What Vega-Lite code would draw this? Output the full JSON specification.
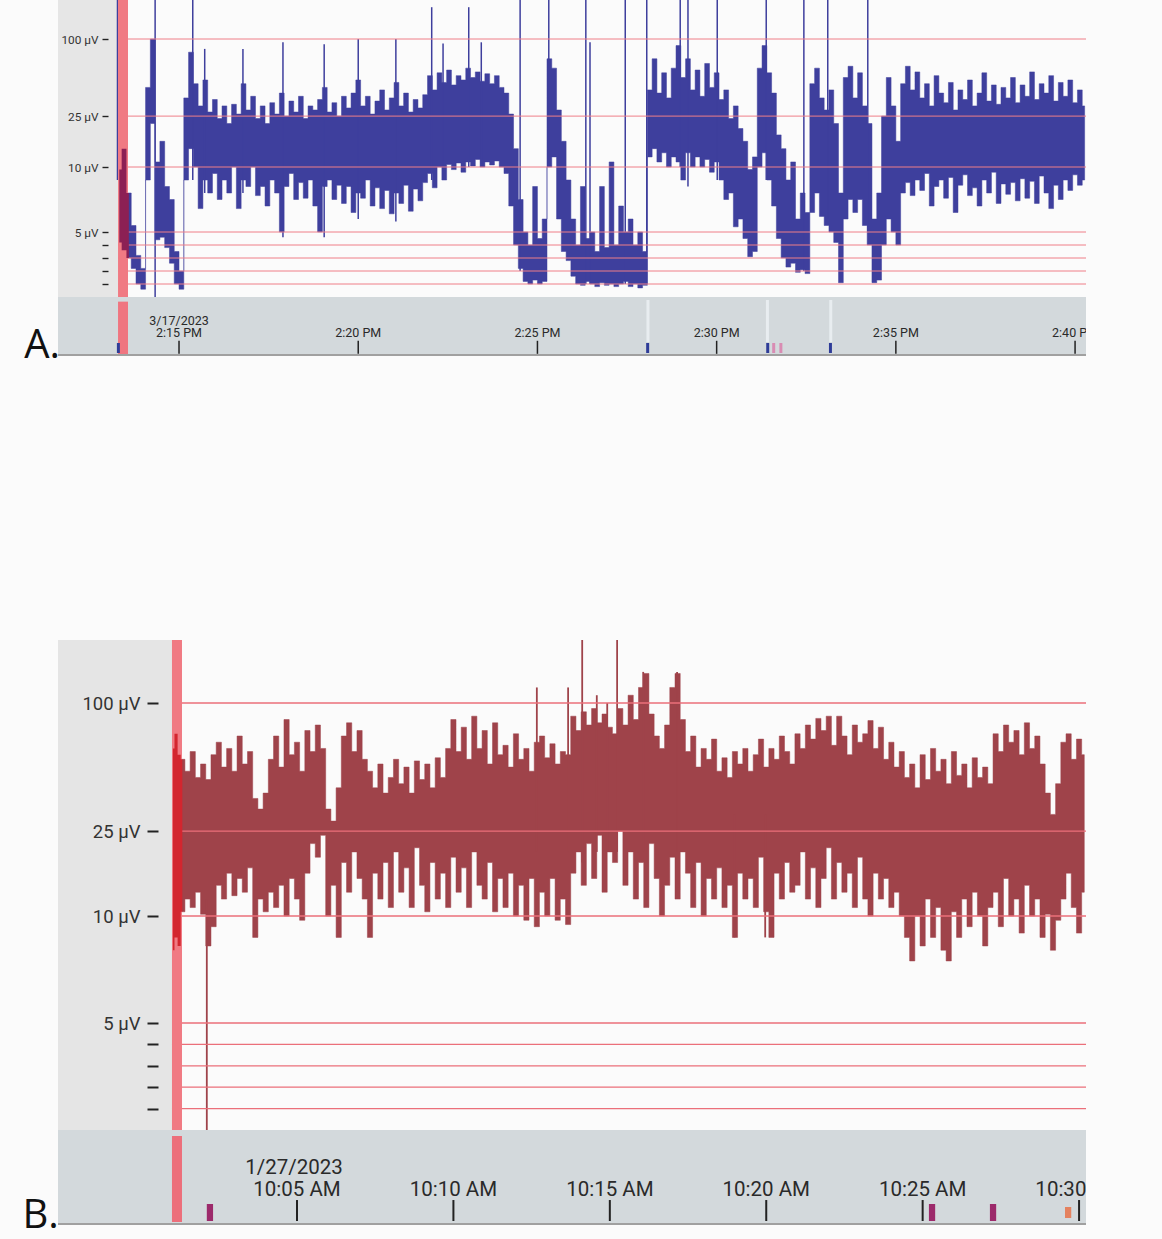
{
  "$schema": "https://vega.github.io/schema/vega-lite/v6.json",
  "background": "#fbfbfb",
  "padding": {"left": 20, "top": 0, "right": 76, "bottom": 8},
  "autosize": {"type": "pad"},
  "bounds": "flush",
  "spacing": 0,
  "config": {"view": {"stroke": null}, "font": "Roboto"},
  "datasets": {
    "one": [{}],
    "grid": [{"v": 1}, {"v": 2}, {"v": 3}, {"v": 4}, {"v": 5}, {"v": 10}, {"v": 25}, {"v": 100}],
    "traceA": [
      {"s":800,"l":4.2,"h":9.8},{"s":808,"l":3.6,"h":14},{"s":816,"l":3.0,"h":8},{"s":824,"l":2.2,"h":5.5},{"s":832,"l":1.0,"h":3.2},{"s":840,"l":0.6,"h":2.2},
      {"s":848,"l":9,"h":42},{"s":856,"l":22,"h":100},{"s":864,"l":4.4,"h":11},{"s":872,"l":4.6,"h":16},{"s":880,"l":3.8,"h":8.5},{"s":888,"l":2.6,"h":7.5},
      {"s":896,"l":1.0,"h":3.5},{"s":904,"l":0.6,"h":2.0},{"s":912,"l":9,"h":35},{"s":920,"l":14,"h":80},{"s":928,"l":10,"h":45},{"s":936,"l":6.8,"h":30},
      {"s":944,"l":9,"h":48},{"s":952,"l":8,"h":27},{"s":960,"l":9.5,"h":34},{"s":968,"l":7.5,"h":24},{"s":976,"l":9,"h":30},{"s":984,"l":8,"h":22},
      {"s":992,"l":10,"h":31},{"s":1000,"l":6.8,"h":26},{"s":1008,"l":9,"h":45},{"s":1016,"l":8.5,"h":28},{"s":1024,"l":10,"h":36},{"s":1032,"l":7.8,"h":24},
      {"s":1040,"l":8.5,"h":30},{"s":1048,"l":7,"h":22},{"s":1056,"l":9,"h":32},{"s":1064,"l":8,"h":26},{"s":1072,"l":5,"h":38},{"s":1080,"l":8.5,"h":25},
      {"s":1088,"l":9.5,"h":33},{"s":1096,"l":7.5,"h":27},{"s":1104,"l":8.8,"h":36},{"s":1112,"l":7.6,"h":24},{"s":1120,"l":9,"h":30},{"s":1128,"l":7,"h":28},
      {"s":1136,"l":5,"h":34},{"s":1144,"l":8.5,"h":42},{"s":1152,"l":9,"h":27},{"s":1160,"l":7.5,"h":32},{"s":1168,"l":8.6,"h":25},{"s":1176,"l":7.2,"h":36},
      {"s":1184,"l":8.5,"h":29},{"s":1192,"l":6.5,"h":38},{"s":1200,"l":8,"h":48},{"s":1208,"l":7.6,"h":30},{"s":1216,"l":9,"h":36},{"s":1224,"l":7,"h":26},
      {"s":1232,"l":8.4,"h":33},{"s":1240,"l":6.8,"h":40},{"s":1248,"l":8.2,"h":28},{"s":1256,"l":6.4,"h":35},{"s":1264,"l":8,"h":46},{"s":1272,"l":7.2,"h":30},
      {"s":1280,"l":8.6,"h":38},{"s":1288,"l":6.6,"h":27},{"s":1296,"l":8.3,"h":34},{"s":1304,"l":7.4,"h":29},{"s":1312,"l":8.8,"h":37},{"s":1320,"l":9.5,"h":52},
      {"s":1328,"l":8.4,"h":40},{"s":1336,"l":10,"h":55},{"s":1344,"l":9,"h":46},{"s":1352,"l":10.5,"h":58},{"s":1360,"l":9.8,"h":44},{"s":1368,"l":10.8,"h":52},
      {"s":1376,"l":9.6,"h":48},{"s":1384,"l":11,"h":60},{"s":1392,"l":10.2,"h":50},{"s":1400,"l":11.5,"h":56},{"s":1408,"l":10,"h":47},{"s":1416,"l":11,"h":54},
      {"s":1424,"l":10.4,"h":45},{"s":1432,"l":11.2,"h":52},{"s":1440,"l":10,"h":42},{"s":1448,"l":9.5,"h":38},{"s":1456,"l":7,"h":26},{"s":1464,"l":4,"h":14},
      {"s":1472,"l":2.2,"h":7.5},{"s":1480,"l":1.2,"h":5},{"s":1488,"l":1.0,"h":4},{"s":1496,"l":1.3,"h":8.5},{"s":1504,"l":1.0,"h":4.5},{"s":1512,"l":1.2,"h":6},
      {"s":1520,"l":10,"h":70},{"s":1528,"l":12,"h":60},{"s":1536,"l":6,"h":28},{"s":1544,"l":3.5,"h":16},{"s":1552,"l":2.8,"h":9},{"s":1560,"l":1.6,"h":6},
      {"s":1568,"l":1.0,"h":4},{"s":1576,"l":0.9,"h":8.5},{"s":1584,"l":1.2,"h":4.5},{"s":1592,"l":1.0,"h":5},{"s":1600,"l":0.8,"h":3.5},{"s":1608,"l":1.1,"h":8.5},
      {"s":1616,"l":0.9,"h":3.8},{"s":1624,"l":1.0,"h":11},{"s":1632,"l":0.8,"h":4},{"s":1640,"l":1.0,"h":7},{"s":1648,"l":1.2,"h":5},{"s":1656,"l":0.8,"h":6},
      {"s":1664,"l":1.0,"h":4},{"s":1672,"l":0.7,"h":5},{"s":1680,"l":0.9,"h":3.5},{"s":1688,"l":12,"h":40},{"s":1696,"l":14,"h":70},{"s":1704,"l":11,"h":38},
      {"s":1712,"l":13,"h":55},{"s":1720,"l":10,"h":35},{"s":1728,"l":12,"h":60},{"s":1736,"l":11,"h":90},{"s":1744,"l":9,"h":50},{"s":1752,"l":13,"h":70},
      {"s":1760,"l":10,"h":40},{"s":1768,"l":12,"h":58},{"s":1776,"l":10,"h":36},{"s":1784,"l":11.5,"h":65},{"s":1792,"l":9.6,"h":42},{"s":1800,"l":11,"h":55},
      {"s":1808,"l":9,"h":34},{"s":1816,"l":7.5,"h":40},{"s":1824,"l":8,"h":24},{"s":1832,"l":5.4,"h":30},{"s":1840,"l":6,"h":20},{"s":1848,"l":4.5,"h":16},
      {"s":1856,"l":3.1,"h":9.8},{"s":1864,"l":3.5,"h":12},{"s":1872,"l":10,"h":60},{"s":1880,"l":13,"h":90},{"s":1888,"l":9,"h":55},{"s":1896,"l":7,"h":38},
      {"s":1904,"l":4.5,"h":18},{"s":1912,"l":3,"h":14},{"s":1920,"l":2.3,"h":9},{"s":1928,"l":2.6,"h":11},{"s":1936,"l":1.9,"h":6},{"s":1944,"l":2.1,"h":8},
      {"s":1952,"l":1.8,"h":6.5},{"s":1960,"l":6.5,"h":45},{"s":1968,"l":8,"h":60},{"s":1976,"l":6.2,"h":35},{"s":1984,"l":5.5,"h":28},{"s":1992,"l":5,"h":40},
      {"s":2000,"l":4.2,"h":22},{"s":2008,"l":1.1,"h":8},{"s":2016,"l":6,"h":50},{"s":2024,"l":7.5,"h":62},{"s":2032,"l":6.5,"h":35},{"s":2040,"l":7.5,"h":55},
      {"s":2048,"l":5.5,"h":30},{"s":2056,"l":4,"h":22},{"s":2064,"l":1.1,"h":6},{"s":2072,"l":1.3,"h":8},{"s":2080,"l":4,"h":25},{"s":2088,"l":6,"h":50},
      {"s":2096,"l":5,"h":30},{"s":2104,"l":4,"h":16},{"s":2112,"l":8,"h":45},{"s":2120,"l":8.8,"h":62},{"s":2128,"l":7.8,"h":40},{"s":2136,"l":9,"h":56},
      {"s":2144,"l":8.2,"h":35},{"s":2152,"l":9.5,"h":45},{"s":2160,"l":7,"h":30},{"s":2168,"l":8.5,"h":52},{"s":2176,"l":9,"h":38},{"s":2184,"l":7.6,"h":32},
      {"s":2192,"l":9.2,"h":46},{"s":2200,"l":6.5,"h":28},{"s":2208,"l":8.6,"h":40},{"s":2216,"l":9.4,"h":34},{"s":2224,"l":7.8,"h":48},{"s":2232,"l":8.4,"h":30},
      {"s":2240,"l":7,"h":38},{"s":2248,"l":9,"h":55},{"s":2256,"l":8,"h":33},{"s":2264,"l":9.6,"h":44},{"s":2272,"l":7.2,"h":31},{"s":2280,"l":8.7,"h":42},
      {"s":2288,"l":7.9,"h":35},{"s":2296,"l":8.8,"h":50},{"s":2304,"l":7.4,"h":32},{"s":2312,"l":9.1,"h":44},{"s":2320,"l":7.6,"h":36},{"s":2328,"l":8.9,"h":56},
      {"s":2336,"l":7.2,"h":34},{"s":2344,"l":9.3,"h":45},{"s":2352,"l":8,"h":38},{"s":2360,"l":6.8,"h":52},{"s":2368,"l":8.6,"h":33},{"s":2376,"l":7.5,"h":46},
      {"s":2384,"l":9,"h":36},{"s":2392,"l":8.2,"h":48},{"s":2400,"l":9.4,"h":32},{"s":2408,"l":8.6,"h":40},{"s":2416,"l":9,"h":30}
    ],
    "spikeA": [
      {"s":797,"l":9,"h":202},{"s":860,"l":0,"h":202},{"s":923,"l":9,"h":202},{"s":943,"l":8,"h":85},{"s":1007,"l":8,"h":85},
      {"s":1074,"l":4.6,"h":95},{"s":1143,"l":4.6,"h":92},{"s":1200,"l":6,"h":100},{"s":1263,"l":5.8,"h":100},{"s":1323,"l":9,"h":180},
      {"s":1342,"l":9,"h":93},{"s":1385,"l":10,"h":180},{"s":1406,"l":10,"h":95},{"s":1471,"l":2,"h":202},{"s":1519,"l":10,"h":202},
      {"s":1581,"l":1,"h":202},{"s":1588,"l":1,"h":95},{"s":1647,"l":1,"h":202},{"s":1683,"l":1,"h":202},{"s":1739,"l":10,"h":202},
      {"s":1752,"l":8.5,"h":202},{"s":1801,"l":9,"h":202},{"s":1883,"l":9,"h":202},{"s":1946,"l":2,"h":202},{"s":1986,"l":6,"h":202},
      {"s":2053,"l":5,"h":202}
    ],
    "traceB": [
      {"s":62,"l":8.4,"h":62},{"s":68,"l":9,"h":72},{"s":74,"l":8.6,"h":58},
      {"s":80,"l":10.5,"h":55},{"s":90,"l":12,"h":48},{"s":100,"l":11,"h":60},{"s":110,"l":13,"h":45},{"s":120,"l":10.2,"h":52},{"s":130,"l":8.6,"h":44},
      {"s":140,"l":9.5,"h":58},{"s":150,"l":14,"h":66},{"s":160,"l":12,"h":50},{"s":170,"l":16,"h":62},{"s":180,"l":12.5,"h":48},{"s":190,"l":15,"h":70},
      {"s":200,"l":13,"h":52},{"s":210,"l":17,"h":60},{"s":220,"l":9,"h":36},{"s":230,"l":12,"h":32},{"s":240,"l":10.5,"h":38},{"s":250,"l":13,"h":55},
      {"s":260,"l":11,"h":70},{"s":270,"l":14,"h":50},{"s":280,"l":10,"h":85},{"s":290,"l":15,"h":58},{"s":300,"l":12,"h":66},{"s":310,"l":9.8,"h":48},
      {"s":320,"l":16,"h":75},{"s":330,"l":22,"h":60},{"s":340,"l":19,"h":80},{"s":350,"l":24,"h":62},{"s":360,"l":10,"h":32},{"s":370,"l":14,"h":28},
      {"s":380,"l":9,"h":40},{"s":390,"l":18,"h":70},{"s":400,"l":13,"h":82},{"s":410,"l":20,"h":60},{"s":420,"l":15,"h":75},{"s":430,"l":12,"h":55},
      {"s":440,"l":9,"h":48},{"s":450,"l":16,"h":40},{"s":460,"l":12,"h":52},{"s":470,"l":18,"h":38},{"s":480,"l":11,"h":45},{"s":490,"l":20,"h":55},
      {"s":500,"l":13,"h":42},{"s":510,"l":17,"h":50},{"s":520,"l":11,"h":38},{"s":530,"l":21,"h":54},{"s":540,"l":14,"h":44},{"s":550,"l":10.5,"h":52},
      {"s":560,"l":18,"h":40},{"s":570,"l":12,"h":56},{"s":580,"l":16,"h":45},{"s":590,"l":11,"h":62},{"s":600,"l":19,"h":85},{"s":610,"l":13,"h":60},
      {"s":620,"l":17,"h":78},{"s":630,"l":11,"h":55},{"s":640,"l":20,"h":88},{"s":650,"l":14,"h":62},{"s":660,"l":12,"h":75},{"s":670,"l":18,"h":52},
      {"s":680,"l":10.5,"h":82},{"s":690,"l":15,"h":58},{"s":700,"l":11,"h":64},{"s":710,"l":16,"h":50},{"s":720,"l":10,"h":72},{"s":730,"l":14,"h":55},
      {"s":740,"l":9.8,"h":62},{"s":750,"l":15,"h":48},{"s":760,"l":9.5,"h":66},{"s":770,"l":13,"h":70},{"s":780,"l":10,"h":56},{"s":790,"l":15,"h":65},
      {"s":800,"l":9.8,"h":52},{"s":810,"l":12,"h":60},{"s":820,"l":9.6,"h":58},{"s":830,"l":16,"h":88},{"s":840,"l":20,"h":75},{"s":850,"l":14,"h":92},
      {"s":860,"l":22,"h":80},{"s":870,"l":15,"h":95},{"s":880,"l":24,"h":82},{"s":890,"l":13,"h":90},{"s":900,"l":20,"h":78},{"s":910,"l":18,"h":72},
      {"s":920,"l":25,"h":95},{"s":930,"l":14,"h":80},{"s":940,"l":20,"h":110},{"s":950,"l":12,"h":85},{"s":960,"l":18,"h":120},{"s":970,"l":11,"h":138},
      {"s":980,"l":22,"h":90},{"s":990,"l":15,"h":70},{"s":1000,"l":10,"h":62},{"s":1010,"l":14,"h":80},{"s":1020,"l":19,"h":120},{"s":1030,"l":12,"h":138},
      {"s":1040,"l":20,"h":85},{"s":1050,"l":16,"h":60},{"s":1060,"l":11,"h":70},{"s":1070,"l":18,"h":50},{"s":1080,"l":10,"h":62},{"s":1090,"l":15,"h":55},
      {"s":1100,"l":12,"h":68},{"s":1110,"l":17,"h":48},{"s":1120,"l":11,"h":56},{"s":1130,"l":14,"h":45},{"s":1140,"l":9,"h":60},{"s":1150,"l":16,"h":52},
      {"s":1160,"l":12,"h":62},{"s":1170,"l":15,"h":48},{"s":1180,"l":11,"h":58},{"s":1190,"l":19,"h":68},{"s":1200,"l":10.5,"h":50},{"s":1210,"l":9,"h":62},
      {"s":1220,"l":16,"h":55},{"s":1230,"l":12,"h":70},{"s":1240,"l":18,"h":60},{"s":1250,"l":13,"h":52},{"s":1260,"l":14,"h":72},{"s":1270,"l":20,"h":62},
      {"s":1280,"l":12,"h":80},{"s":1290,"l":17,"h":68},{"s":1300,"l":11,"h":86},{"s":1310,"l":15,"h":75},{"s":1320,"l":21,"h":88},{"s":1330,"l":12,"h":64},
      {"s":1340,"l":18,"h":88},{"s":1350,"l":13,"h":70},{"s":1360,"l":16,"h":58},{"s":1370,"l":11,"h":80},{"s":1380,"l":19,"h":66},{"s":1390,"l":12,"h":72},
      {"s":1400,"l":10,"h":84},{"s":1410,"l":16,"h":62},{"s":1420,"l":12,"h":78},{"s":1430,"l":15,"h":55},{"s":1440,"l":11,"h":66},{"s":1450,"l":13,"h":50},
      {"s":1460,"l":10,"h":60},{"s":1470,"l":9,"h":45},{"s":1480,"l":7.9,"h":52},{"s":1490,"l":10,"h":40},{"s":1500,"l":8.6,"h":58},{"s":1510,"l":12,"h":44},
      {"s":1520,"l":9,"h":62},{"s":1530,"l":11,"h":48},{"s":1540,"l":8.4,"h":55},{"s":1550,"l":7.9,"h":42},{"s":1560,"l":10.5,"h":60},{"s":1570,"l":9,"h":46},
      {"s":1580,"l":12,"h":52},{"s":1590,"l":9.5,"h":40},{"s":1600,"l":13,"h":56},{"s":1610,"l":10,"h":45},{"s":1620,"l":8.6,"h":50},{"s":1630,"l":11,"h":42},
      {"s":1640,"l":13,"h":72},{"s":1650,"l":9.5,"h":60},{"s":1660,"l":15,"h":80},{"s":1670,"l":10,"h":66},{"s":1680,"l":12,"h":75},{"s":1690,"l":9.2,"h":58},
      {"s":1700,"l":14,"h":82},{"s":1710,"l":10,"h":62},{"s":1720,"l":12,"h":70},{"s":1730,"l":9,"h":52},{"s":1740,"l":10.2,"h":38},{"s":1750,"l":8.4,"h":30},
      {"s":1760,"l":9.8,"h":42},{"s":1770,"l":12,"h":66},{"s":1780,"l":16,"h":72},{"s":1790,"l":11,"h":55},{"s":1800,"l":9.2,"h":68},{"s":1810,"l":13,"h":58}
    ],
    "spikeB": [
      {"s":127,"l":0,"h":12},{"s":760,"l":20,"h":120},{"s":820,"l":20,"h":120},{"s":847,"l":18,"h":198},{"s":875,"l":20,"h":110},
      {"s":895,"l":20,"h":100},{"s":914,"l":20,"h":198},{"s":964,"l":20,"h":140},{"s":1029,"l":20,"h":140},{"s":1139,"l":9,"h":30},{"s":1198,"l":9,"h":30}
    ],
    "ticksA": [
      {"s":900,"t":"2:15 PM","d":"3/17/2023"},{"s":1200,"t":"2:20 PM","d":""},{"s":1500,"t":"2:25 PM","d":""},
      {"s":1800,"t":"2:30 PM","d":""},{"s":2100,"t":"2:35 PM","d":""},{"s":2400,"t":"2:40 PM","d":""}
    ],
    "ticksB": [
      {"s":300,"t":"10:05 AM","d":"1/27/2023"},{"s":600,"t":"10:10 AM","d":""},{"s":900,"t":"10:15 AM","d":""},
      {"s":1200,"t":"10:20 AM","d":""},{"s":1500,"t":"10:25 AM","d":""},{"s":1800,"t":"10:30 AM","d":""}
    ],
    "eventsA": [
      {"s0":796,"s1":801,"k":"b"},{"s0":1682,"s1":1687,"k":"b"},{"s0":1883,"s1":1888,"k":"b"},
      {"s0":1893,"s1":1898,"k":"p"},{"s0":1905,"s1":1910,"k":"p"},{"s0":1988,"s1":1993,"k":"b"}
    ],
    "eventsB": [
      {"s0":127,"s1":139,"k":"pu"},{"s0":1512,"s1":1524,"k":"pu"},{"s0":1629,"s1":1641,"k":"pu"},{"s0":1773,"s1":1785,"k":"or"}
    ],
    "gapsA": [{"s":1685},{"s":1885},{"s":1991}]
  },
  "resolve": {"scale": {"x": "independent", "y": "independent"}},
  "vconcat": [
    {
      "width": 1066,
      "height": 297,
      "layer": [
        {
          "data": {"name": "one"},
          "mark": {"type": "rect", "color": "#e6e6e6"},
          "encoding": {
            "x": {"datum": 697.4, "type": "quantitative", "scale": {"domain": [633.8, 2418.3], "nice": false, "zero": false}, "axis": null},
            "x2": {"datum": 797.9},
            "y": {
              "datum": 0, "type": "quantitative",
              "scale": {"domain": [0,10,12,15,20,25,30,40,50,70,100,140,202], "range": [297,167,156.9,144.5,128.5,116.1,105.9,89.9,77.5,58.8,39,20.3,0], "nice": false, "zero": false},
              "axis": {
                "orient": "left", "offset": -88, "values": [1,2,3,4,5,10,25,100], "domain": false, "grid": false,
                "tickSize": 6, "tickWidth": 1.4, "tickColor": "#222", "labelPadding": 4, "labelFontSize": 11.8,
                "labelFont": "Roboto", "labelColor": "#333", "labelOverlap": false, "labelBound": false, "title": null, "zindex": 1,
                "labelExpr": "datum.value >= 5 ? datum.value + ' µV' : ''"
              }
            },
            "y2": {"datum": 202}
          }
        },
        {
          "data": {"name": "traceA"},
          "mark": {"type": "area", "color": "#3e3f9d", "stroke": "#3e3f9d", "strokeWidth": 0.5, "interpolate": "step", "clip": true},
          "encoding": {
            "x": {"field": "s", "type": "quantitative", "scale": {"domain": [633.8, 2418.3], "nice": false, "zero": false}, "axis": null},
            "y": {"field": "l", "type": "quantitative", "scale": {"domain": [0,10,12,15,20,25,30,40,50,70,100,140,202], "range": [297,167,156.9,144.5,128.5,116.1,105.9,89.9,77.5,58.8,39,20.3,0], "nice": false, "zero": false}},
            "y2": {"field": "h"}
          }
        },
        {
          "data": {"name": "spikeA"},
          "mark": {"type": "rule", "color": "#3e3f9d", "strokeWidth": 1.5, "clip": true},
          "encoding": {
            "x": {"field": "s", "type": "quantitative", "scale": {"domain": [633.8, 2418.3], "nice": false, "zero": false}, "axis": null},
            "y": {"field": "l", "type": "quantitative", "scale": {"domain": [0,10,12,15,20,25,30,40,50,70,100,140,202], "range": [297,167,156.9,144.5,128.5,116.1,105.9,89.9,77.5,58.8,39,20.3,0], "nice": false, "zero": false}},
            "y2": {"field": "h"}
          }
        },
        {
          "data": {"name": "grid"},
          "mark": {"type": "rule", "color": "#ef7f88", "strokeWidth": 1},
          "encoding": {
            "x": {"datum": 797.9, "type": "quantitative", "scale": {"domain": [633.8, 2418.3], "nice": false, "zero": false}, "axis": null},
            "x2": {"datum": 2418.3},
            "y": {"field": "v", "type": "quantitative", "scale": {"domain": [0,10,12,15,20,25,30,40,50,70,100,140,202], "range": [297,167,156.9,144.5,128.5,116.1,105.9,89.9,77.5,58.8,39,20.3,0], "nice": false, "zero": false}}
          }
        },
        {
          "data": {"name": "one"},
          "mark": {"type": "rect", "color": "#f07a83"},
          "encoding": {
            "x": {"datum": 797.9, "type": "quantitative", "scale": {"domain": [633.8, 2418.3], "nice": false, "zero": false}, "axis": null},
            "x2": {"datum": 814.6},
            "y": {"datum": 0, "type": "quantitative", "scale": {"domain": [0,10,12,15,20,25,30,40,50,70,100,140,202], "range": [297,167,156.9,144.5,128.5,116.1,105.9,89.9,77.5,58.8,39,20.3,0], "nice": false, "zero": false}},
            "y2": {"datum": 202}
          }
        },
        {
          "data": {"name": "traceA"},
          "transform": [{"filter": "datum.s <= 816"}],
          "mark": {"type": "area", "color": "#8c2054", "interpolate": "step", "clip": true},
          "encoding": {
            "x": {"field": "s", "type": "quantitative", "scale": {"domain": [633.8, 2418.3], "nice": false, "zero": false}, "axis": null},
            "y": {"field": "l", "type": "quantitative", "scale": {"domain": [0,10,12,15,20,25,30,40,50,70,100,140,202], "range": [297,167,156.9,144.5,128.5,116.1,105.9,89.9,77.5,58.8,39,20.3,0], "nice": false, "zero": false}},
            "y2": {"field": "h"}
          }
        }
      ]
    },
    {
      "width": 1066,
      "height": 343,
      "layer": [
        {
          "data": {"name": "one"},
          "mark": {"type": "rect", "color": "#d3d9dc"},
          "encoding": {
            "x": {"datum": 697.4, "type": "quantitative", "scale": {"domain": [633.8, 2418.3], "nice": false, "zero": false}, "axis": null},
            "x2": {"datum": 2418.3},
            "y": {"datum": 0, "type": "quantitative", "scale": {"domain": [-4.914, 1], "nice": false, "zero": false}, "axis": null},
            "y2": {"datum": 1}
          }
        },
        {
          "data": {"name": "gapsA"},
          "mark": {"type": "rule", "color": "#e8edf0", "strokeWidth": 3},
          "encoding": {
            "x": {"field": "s", "type": "quantitative", "scale": {"domain": [633.8, 2418.3], "nice": false, "zero": false}, "axis": null},
            "y": {"datum": 0.224, "type": "quantitative", "scale": {"domain": [-4.914, 1], "nice": false, "zero": false}, "axis": null},
            "y2": {"datum": 0.948}
          }
        },
        {
          "data": {"name": "one"},
          "mark": {"type": "rect", "color": "#ef7580"},
          "encoding": {
            "x": {"datum": 797.9, "type": "quantitative", "scale": {"domain": [633.8, 2418.3], "nice": false, "zero": false}, "axis": null},
            "x2": {"datum": 814.6},
            "y": {"datum": 0.017, "type": "quantitative", "scale": {"domain": [-4.914, 1], "nice": false, "zero": false}, "axis": null},
            "y2": {"datum": 0.92}
          }
        },
        {
          "data": {"name": "eventsA"},
          "mark": {"type": "rect"},
          "encoding": {
            "x": {"field": "s0", "type": "quantitative", "scale": {"domain": [633.8, 2418.3], "nice": false, "zero": false}, "axis": null},
            "x2": {"field": "s1"},
            "y": {"datum": 0.034, "type": "quantitative", "scale": {"domain": [-4.914, 1], "nice": false, "zero": false}, "axis": null},
            "y2": {"datum": 0.207},
            "color": {"field": "k", "type": "nominal", "scale": {"domain": ["b", "p", "pu", "or"], "range": ["#2e3c98", "#d98cb3", "#9c2a6b", "#e4825f"]}, "legend": null}
          }
        },
        {
          "data": {"name": "ticksA"},
          "mark": {"type": "rule", "color": "#222", "strokeWidth": 1.5},
          "encoding": {
            "x": {"field": "s", "type": "quantitative", "scale": {"domain": [633.8, 2418.3], "nice": false, "zero": false}, "axis": null},
            "y": {"datum": 0.02, "type": "quantitative", "scale": {"domain": [-4.914, 1], "nice": false, "zero": false}, "axis": null},
            "y2": {"datum": 0.245}
          }
        },
        {
          "data": {"name": "ticksA"},
          "mark": {"type": "text", "font": "Roboto", "fontSize": 12.5, "color": "#2a2a2a", "align": "center", "baseline": "alphabetic", "clip": true},
          "encoding": {
            "x": {"field": "s", "type": "quantitative", "scale": {"domain": [633.8, 2418.3], "nice": false, "zero": false}, "axis": null},
            "y": {"datum": 0.31, "type": "quantitative", "scale": {"domain": [-4.914, 1], "nice": false, "zero": false}, "axis": null},
            "text": {"field": "t"}
          }
        },
        {
          "data": {"name": "ticksA"},
          "mark": {"type": "text", "font": "Roboto", "fontSize": 12.5, "color": "#2a2a2a", "align": "center", "baseline": "alphabetic", "clip": true},
          "encoding": {
            "x": {"field": "s", "type": "quantitative", "scale": {"domain": [633.8, 2418.3], "nice": false, "zero": false}, "axis": null},
            "y": {"datum": 0.517, "type": "quantitative", "scale": {"domain": [-4.914, 1], "nice": false, "zero": false}, "axis": null},
            "text": {"field": "d"}
          }
        },
        {
          "data": {"name": "one"},
          "mark": {"type": "rule", "color": "#a0a0a0", "strokeWidth": 2},
          "encoding": {
            "x": {"datum": 697.4, "type": "quantitative", "scale": {"domain": [633.8, 2418.3], "nice": false, "zero": false}, "axis": null},
            "x2": {"datum": 2418.3},
            "y": {"datum": 0, "type": "quantitative", "scale": {"domain": [-4.914, 1], "nice": false, "zero": false}, "axis": null}
          }
        },
        {
          "data": {"name": "one"},
          "mark": {"type": "text", "text": "A.", "font": "Open Sans", "fontSize": 40, "color": "#111", "align": "right", "baseline": "alphabetic"},
          "encoding": {
            "x": {"datum": 700.8, "type": "quantitative", "scale": {"domain": [633.8, 2418.3], "nice": false, "zero": false}, "axis": null},
            "y": {"datum": -0.052, "type": "quantitative", "scale": {"domain": [-4.914, 1], "nice": false, "zero": false}, "axis": null}
          }
        }
      ]
    },
    {
      "width": 1066,
      "height": 490,
      "layer": [
        {
          "data": {"name": "one"},
          "mark": {"type": "rect", "color": "#e5e5e5"},
          "encoding": {
            "x": {"datum": -158.4, "type": "quantitative", "scale": {"domain": [-231.3, 1813.3], "nice": false, "zero": false}, "axis": null},
            "x2": {"datum": 60.2},
            "y": {
              "datum": 0, "type": "quantitative",
              "scale": {"domain": [0,10,12,15,20,25,30,40,50,70,100,140,197.6], "range": [490,276,259.1,238.5,211.9,191.2,174.4,147.8,127.1,96,63,31.9,0], "nice": false, "zero": false},
              "axis": {
                "orient": "left", "offset": -138, "values": [1,2,3,4,5,10,25,100], "domain": false, "grid": false,
                "tickSize": 11, "tickWidth": 2, "tickColor": "#222", "labelPadding": 7, "labelFontSize": 18.5,
                "labelFont": "Roboto", "labelColor": "#333", "labelOverlap": false, "labelBound": false, "title": null, "zindex": 1,
                "labelExpr": "datum.value >= 5 ? datum.value + ' µV' : ''"
              }
            },
            "y2": {"datum": 197.6}
          }
        },
        {
          "data": {"name": "traceB"},
          "mark": {"type": "area", "color": "#9f434a", "stroke": "#9f434a", "strokeWidth": 0.5, "interpolate": "step", "clip": true},
          "encoding": {
            "x": {"field": "s", "type": "quantitative", "scale": {"domain": [-231.3, 1813.3], "nice": false, "zero": false}, "axis": null},
            "y": {"field": "l", "type": "quantitative", "scale": {"domain": [0,10,12,15,20,25,30,40,50,70,100,140,197.6], "range": [490,276,259.1,238.5,211.9,191.2,174.4,147.8,127.1,96,63,31.9,0], "nice": false, "zero": false}},
            "y2": {"field": "h"}
          }
        },
        {
          "data": {"name": "spikeB"},
          "mark": {"type": "rule", "color": "#9f434a", "strokeWidth": 1.8, "clip": true},
          "encoding": {
            "x": {"field": "s", "type": "quantitative", "scale": {"domain": [-231.3, 1813.3], "nice": false, "zero": false}, "axis": null},
            "y": {"field": "l", "type": "quantitative", "scale": {"domain": [0,10,12,15,20,25,30,40,50,70,100,140,197.6], "range": [490,276,259.1,238.5,211.9,191.2,174.4,147.8,127.1,96,63,31.9,0], "nice": false, "zero": false}},
            "y2": {"field": "h"}
          }
        },
        {
          "data": {"name": "grid"},
          "mark": {"type": "rule", "color": "#eb6f7a", "strokeWidth": 1.3},
          "encoding": {
            "x": {"datum": 60.2, "type": "quantitative", "scale": {"domain": [-231.3, 1813.3], "nice": false, "zero": false}, "axis": null},
            "x2": {"datum": 1813.3},
            "y": {"field": "v", "type": "quantitative", "scale": {"domain": [0,10,12,15,20,25,30,40,50,70,100,140,197.6], "range": [490,276,259.1,238.5,211.9,191.2,174.4,147.8,127.1,96,63,31.9,0], "nice": false, "zero": false}}
          }
        },
        {
          "data": {"name": "one"},
          "mark": {"type": "rect", "color": "#f07a83"},
          "encoding": {
            "x": {"datum": 60.2, "type": "quantitative", "scale": {"domain": [-231.3, 1813.3], "nice": false, "zero": false}, "axis": null},
            "x2": {"datum": 79.4},
            "y": {"datum": 0, "type": "quantitative", "scale": {"domain": [0,10,12,15,20,25,30,40,50,70,100,140,197.6], "range": [490,276,259.1,238.5,211.9,191.2,174.4,147.8,127.1,96,63,31.9,0], "nice": false, "zero": false}},
            "y2": {"datum": 197.6}
          }
        },
        {
          "data": {"name": "traceB"},
          "transform": [{"filter": "datum.s <= 80"}],
          "mark": {"type": "area", "color": "#d3262f", "interpolate": "step", "clip": true},
          "encoding": {
            "x": {"field": "s", "type": "quantitative", "scale": {"domain": [-231.3, 1813.3], "nice": false, "zero": false}, "axis": null},
            "y": {"field": "l", "type": "quantitative", "scale": {"domain": [0,10,12,15,20,25,30,40,50,70,100,140,197.6], "range": [490,276,259.1,238.5,211.9,191.2,174.4,147.8,127.1,96,63,31.9,0], "nice": false, "zero": false}},
            "y2": {"field": "h"}
          }
        }
      ]
    },
    {
      "width": 1066,
      "height": 94,
      "layer": [
        {
          "data": {"name": "one"},
          "mark": {"type": "rect", "color": "#d3d9dc"},
          "encoding": {
            "x": {"datum": -158.4, "type": "quantitative", "scale": {"domain": [-231.3, 1813.3], "nice": false, "zero": false}, "axis": null},
            "x2": {"datum": 1813.3},
            "y": {"datum": 0, "type": "quantitative", "scale": {"domain": [0, 1], "nice": false, "zero": false}, "axis": null},
            "y2": {"datum": 1}
          }
        },
        {
          "data": {"name": "one"},
          "mark": {"type": "rect", "color": "#ec6f7b"},
          "encoding": {
            "x": {"datum": 60.2, "type": "quantitative", "scale": {"domain": [-231.3, 1813.3], "nice": false, "zero": false}, "axis": null},
            "x2": {"datum": 79.4},
            "y": {"datum": 0.021, "type": "quantitative", "scale": {"domain": [0, 1], "nice": false, "zero": false}, "axis": null},
            "y2": {"datum": 0.936}
          }
        },
        {
          "data": {"name": "eventsB"},
          "transform": [{"filter": "datum.k == 'pu'"}],
          "mark": {"type": "rect"},
          "encoding": {
            "x": {"field": "s0", "type": "quantitative", "scale": {"domain": [-231.3, 1813.3], "nice": false, "zero": false}, "axis": null},
            "x2": {"field": "s1"},
            "y": {"datum": 0.032, "type": "quantitative", "scale": {"domain": [0, 1], "nice": false, "zero": false}, "axis": null},
            "y2": {"datum": 0.213},
            "color": {"field": "k", "type": "nominal", "scale": {"domain": ["b", "p", "pu", "or"], "range": ["#2e3c98", "#d98cb3", "#9c2a6b", "#e4825f"]}, "legend": null}
          }
        },
        {
          "data": {"name": "eventsB"},
          "transform": [{"filter": "datum.k == 'or'"}],
          "mark": {"type": "rect"},
          "encoding": {
            "x": {"field": "s0", "type": "quantitative", "scale": {"domain": [-231.3, 1813.3], "nice": false, "zero": false}, "axis": null},
            "x2": {"field": "s1"},
            "y": {"datum": 0.064, "type": "quantitative", "scale": {"domain": [0, 1], "nice": false, "zero": false}, "axis": null},
            "y2": {"datum": 0.181},
            "color": {"field": "k", "type": "nominal", "scale": {"domain": ["b", "p", "pu", "or"], "range": ["#2e3c98", "#d98cb3", "#9c2a6b", "#e4825f"]}, "legend": null}
          }
        },
        {
          "data": {"name": "ticksB"},
          "mark": {"type": "rule", "color": "#222", "strokeWidth": 2},
          "encoding": {
            "x": {"field": "s", "type": "quantitative", "scale": {"domain": [-231.3, 1813.3], "nice": false, "zero": false}, "axis": null},
            "y": {"datum": 0.032, "type": "quantitative", "scale": {"domain": [0, 1], "nice": false, "zero": false}, "axis": null},
            "y2": {"datum": 0.255}
          }
        },
        {
          "data": {"name": "ticksB"},
          "mark": {"type": "text", "font": "Roboto", "fontSize": 20.5, "color": "#2a2a2a", "align": "center", "baseline": "alphabetic", "clip": true},
          "encoding": {
            "x": {"field": "s", "type": "quantitative", "scale": {"domain": [-231.3, 1813.3], "nice": false, "zero": false}, "axis": null},
            "y": {"datum": 0.298, "type": "quantitative", "scale": {"domain": [0, 1], "nice": false, "zero": false}, "axis": null},
            "text": {"field": "t"}
          }
        },
        {
          "data": {"name": "ticksB"},
          "mark": {"type": "text", "font": "Roboto", "fontSize": 20.5, "color": "#2a2a2a", "align": "center", "baseline": "alphabetic", "clip": true, "dx": -3},
          "encoding": {
            "x": {"field": "s", "type": "quantitative", "scale": {"domain": [-231.3, 1813.3], "nice": false, "zero": false}, "axis": null},
            "y": {"datum": 0.532, "type": "quantitative", "scale": {"domain": [0, 1], "nice": false, "zero": false}, "axis": null},
            "text": {"field": "d"}
          }
        },
        {
          "data": {"name": "one"},
          "mark": {"type": "rule", "color": "#a0a0a0", "strokeWidth": 2},
          "encoding": {
            "x": {"datum": -158.4, "type": "quantitative", "scale": {"domain": [-231.3, 1813.3], "nice": false, "zero": false}, "axis": null},
            "x2": {"datum": 1813.3},
            "y": {"datum": 0, "type": "quantitative", "scale": {"domain": [0, 1], "nice": false, "zero": false}, "axis": null}
          }
        },
        {
          "data": {"name": "one"},
          "mark": {"type": "text", "text": "B.", "font": "Open Sans", "fontSize": 40, "color": "#111", "align": "right", "baseline": "alphabetic"},
          "encoding": {
            "x": {"datum": -157, "type": "quantitative", "scale": {"domain": [-231.3, 1813.3], "nice": false, "zero": false}, "axis": null},
            "y": {"datum": -0.043, "type": "quantitative", "scale": {"domain": [0, 1], "nice": false, "zero": false}, "axis": null}
          }
        }
      ]
    }
  ]
}
